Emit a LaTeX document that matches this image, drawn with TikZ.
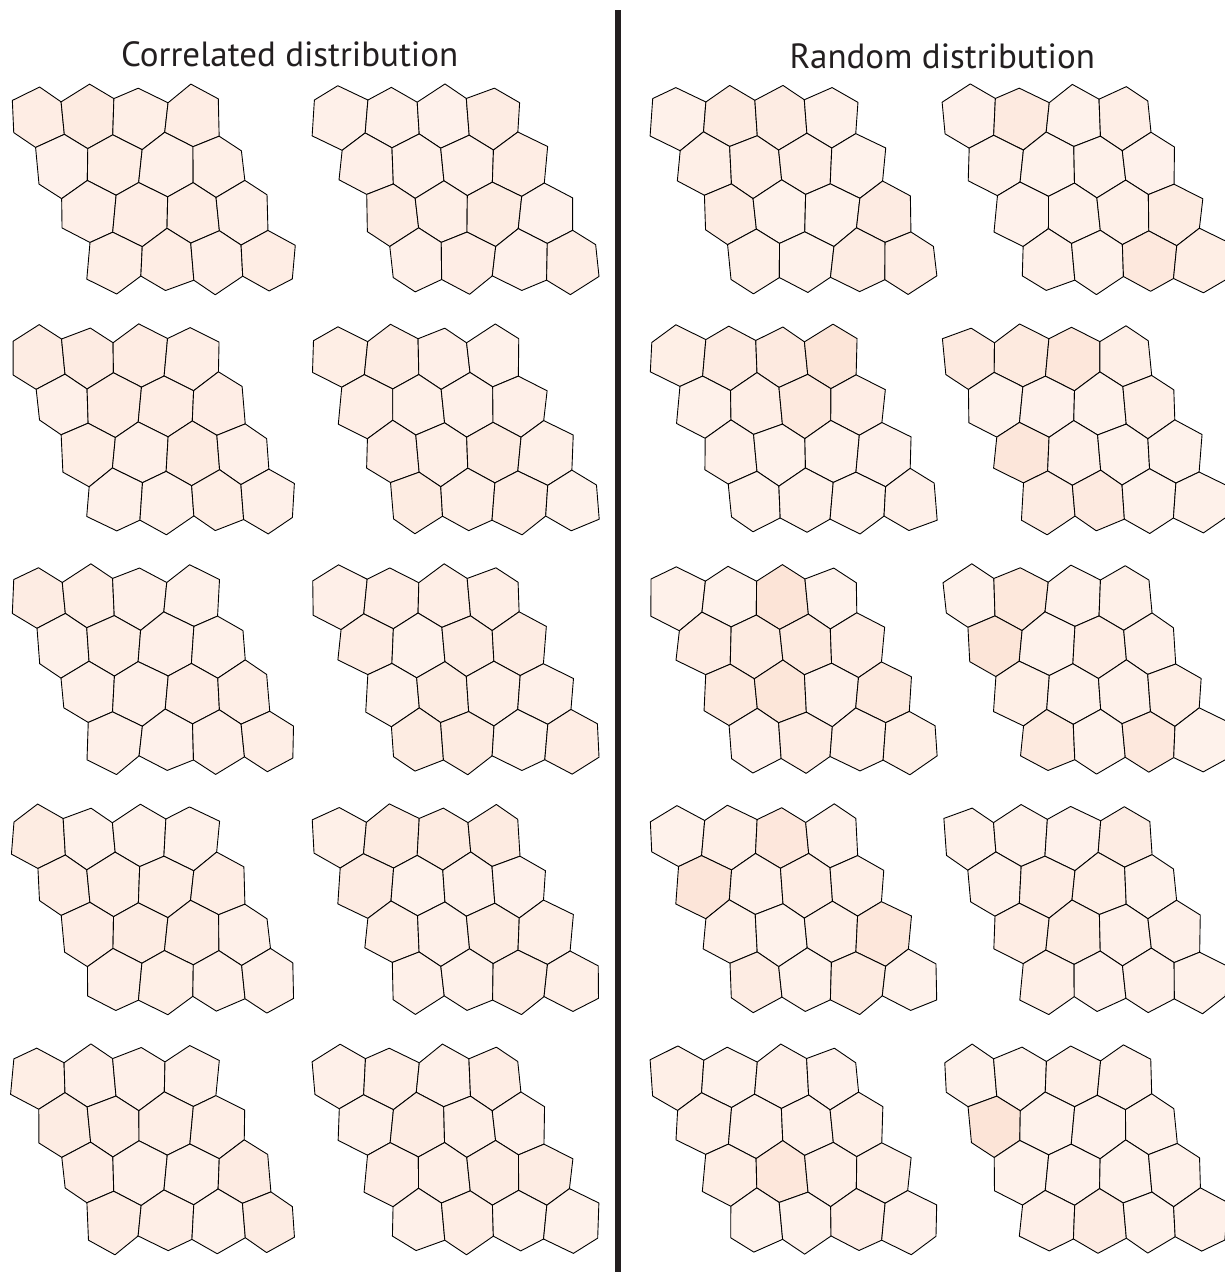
\documentclass[tikz,border=0pt]{standalone}
\usepackage{fontspec}
\usepackage{xcolor}
\usepackage{tikz}
\setmainfont{PT Sans}
\definecolor{inkgray}{RGB}{35,31,32}
\definecolor{peachlo}{RGB}{255,245,240}
\definecolor{peachhi}{RGB}{251,222,206}

% jittered hexagon corner (a shared corner gets the same shift)
\newcommand{\hexv}[2]{({(#1)+2.2*sin(5.3*(#1)+3.1*(#2))},{(#2)+2.2*cos(4.1*(#1)-6.7*(#2))})}

\begin{document}
\begin{tikzpicture}[x=1pt, y=-1pt,
    cell/.style={draw=black, line width=0.9pt, line join=round},
    heading/.style={font=\fontsize{35}{40}\selectfont, text=inkgray, inner sep=0pt, anchor=base},
    divider/.style={draw=inkgray, line width=6pt}]
  \useasboundingbox (0,0) rectangle (1225,1272);
  \pgfmathsetseed{11}
  % headings
  \node[heading] (corr) at (289.7,66.7) {Correlated distribution};
  \node[heading] (rand) at (942.3,68) {Random distribution};
  % divider
  \coordinate (divtop) at (618,10);
  \coordinate (divbot) at (618,1272);
  \draw[divider] (divtop) -- (divbot);
  % 5 x 4 patches of 4 x 4 cells
  \foreach \c/\ox in {0/37.5, 1/340, 2/678, 3/970}{
    \foreach \r in {0,...,4}{
      \foreach \i in {0,...,3}{
        \foreach \j in {0,...,3}{
          \pgfmathsetmacro\cx{\ox+51.4*\j+25.7*\i}
          \pgfmathsetmacro\cy{117.3+240*\r+48*\i}
          \ifnum\c<2 \pgfmathtruncatemacro\p{15+30*rnd}\else\pgfmathtruncatemacro\p{15+60*rnd^3}\fi
          \filldraw[cell, fill=peachhi!\p!peachlo]
            \hexv{\cx}{\cy-31.3} -- \hexv{\cx+25.7}{\cy-16.7} -- \hexv{\cx+25.7}{\cy+16.7}
            -- \hexv{\cx}{\cy+31.3} -- \hexv{\cx-25.7}{\cy+16.7} -- \hexv{\cx-25.7}{\cy-16.7} -- cycle;
        }
      }
    }
  }
\end{tikzpicture}
\end{document}
